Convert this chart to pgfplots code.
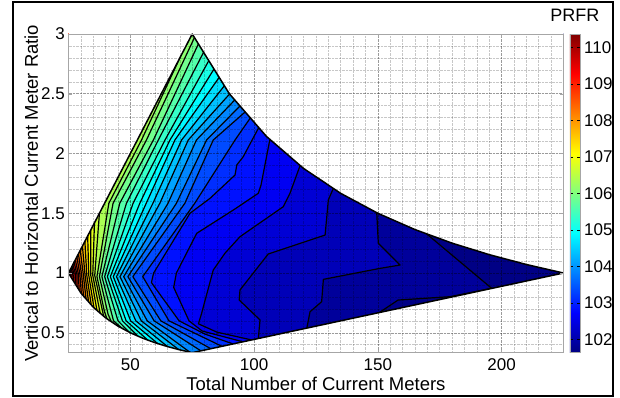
\documentclass[border=0pt]{standalone}
\usepackage{pgfplots}
\pgfplotsset{compat=1.18}
\usepackage{fontspec}
\setmainfont{Liberation Sans}
\definecolor{cb}{rgb}{0,0,0.523}
\definecolor{c0}{rgb}{0,0,0.608}
\definecolor{c1}{rgb}{0,0,0.722}
\definecolor{c2}{rgb}{0,0,0.837}
\definecolor{c3}{rgb}{0,0,0.952}
\definecolor{c4}{rgb}{0,0.066,1}
\definecolor{c5}{rgb}{0,0.181,1}
\definecolor{c6}{rgb}{0,0.296,1}
\definecolor{c7}{rgb}{0,0.411,1}
\definecolor{c8}{rgb}{0,0.525,1}
\definecolor{c9}{rgb}{0,0.640,1}
\definecolor{c10}{rgb}{0,0.755,1}
\definecolor{c11}{rgb}{0,0.869,1}
\definecolor{c12}{rgb}{0,0.984,1}
\definecolor{c13}{rgb}{0.099,1,0.901}
\definecolor{c14}{rgb}{0.213,1,0.787}
\definecolor{c15}{rgb}{0.328,1,0.672}
\definecolor{c16}{rgb}{0.443,1,0.557}
\definecolor{c17}{rgb}{0.557,1,0.443}
\definecolor{c18}{rgb}{0.672,1,0.328}
\definecolor{c19}{rgb}{0.787,1,0.213}
\definecolor{c20}{rgb}{0.901,1,0.099}
\definecolor{c21}{rgb}{1,0.984,0}
\definecolor{c22}{rgb}{1,0.869,0}
\definecolor{c23}{rgb}{1,0.755,0}
\definecolor{c24}{rgb}{1,0.640,0}
\definecolor{c25}{rgb}{1,0.525,0}
\definecolor{c26}{rgb}{1,0.411,0}
\definecolor{c27}{rgb}{1,0.296,0}
\definecolor{c28}{rgb}{1,0.181,0}
\definecolor{c29}{rgb}{1,0.066,0}
\definecolor{c30}{rgb}{0.952,0,0}
\definecolor{c31}{rgb}{0.837,0,0}
\definecolor{c32}{rgb}{0.722,0,0}
\definecolor{c33}{rgb}{0.608,0,0}
\definecolor{c34}{rgb}{0.527,0,0}
% contour lines (levels 101.75 + 0.25k); first and last points lie just outside the domain
\newcommand\defline[2]{\expandafter\def\csname ln#1\endcsname{#2}}
\defline{0}{(158.6,1.52) (171.1,1.304) (196.0,0.872) (179.2,0.802) (158.2,0.774) (151.0,0.675) (147.0,0.58)}
\defline{1}{(148.8,1.75) (149.55,1.51) (150.2,1.249) (159.0,1.067) (150.9,1.039) (128.0,0.947) (127.3,0.76) (122.6,0.676) (121.3,0.537) (120.5,0.45)}
\defline{2}{(133,1.85) (132.0,1.708) (130.0,1.611) (128.7,1.318) (105.7,1.159) (94.3,0.858) (94.0,0.774) (102.4,0.607) (101.7,0.452) (101.4,0.38)}
\defline{3}{(119.5,2.05) (118.6,1.9) (114.5,1.667) (111.8,1.555) (94.3,1.304) (88.2,1.165) (83.5,1.025) (79.5,0.718) (78.8,0.663) (77.5,0.575) (85,0.505) (99.0,0.44) (99.2,0.37)}
\defline{4}{(107.3,2.3) (106.4,2.12) (102.8,1.736) (101.7,1.667) (91.6,1.527) (76.8,1.332) (68.6,1.0) (67.5,0.88) (73.7,0.6) (79,0.515) (95.5,0.4244) (95.8,0.35)}
\defline{5}{(102.7,2.33) (101.7,2.21) (95.6,1.973) (93.0,1.904) (92.3,1.82) (82.2,1.625) (74.1,1.50) (59.4,1.0) (58.5,0.92) (69.7,0.6) (80,0.49) (91.5,0.4067) (91.8,0.33)}
\defline{6}{(99.5,2.42) (98.5,2.298) (92.3,2.113) (76.0,1.583) (55.0,0.97) (65.6,0.6) (87.0,0.3867) (87.3,0.31)}
\defline{7}{(97.4,2.47) (96.4,2.348) (83.5,2.113) (72.0,1.583) (51.0,0.97) (62.3,0.6) (82.5,0.3667) (82.8,0.29)}
\defline{8}{(95.3,2.52) (94.3,2.398) (80.8,2.113) (68.6,1.583) (49.0,0.97) (59.6,0.6) (78.5,0.3489) (78.8,0.27)}
\defline{9}{(93.2,2.57) (92.2,2.448) (76.7,2.113) (65.2,1.583) (47.3,0.97) (56.8,0.6) (74.0,0.338) (74.6,0.26)}
\defline{10}{(91.1,2.62) (90.1,2.498) (73.4,2.113) (61.9,1.583) (45.8,0.97) (54.4,0.6) (69.5,0.36) (70.1,0.27)}
\defline{11}{(89.0,2.69) (88.0,2.567) (70.7,2.113) (59.1,1.583) (44.4,0.97) (52.2,0.6) (65.0,0.3846) (65.6,0.29)}
\defline{12}{(86.9,2.76) (85.9,2.637) (68.0,2.113) (56.4,1.583) (43.1,0.97) (50.1,0.6) (61.0,0.4103) (61.6,0.31)}
\defline{13}{(84.8,2.83) (83.8,2.707) (66.0,2.113) (53.8,1.583) (41.9,0.97) (48.3,0.6) (57.0,0.4394) (57.6,0.34)}
\defline{14}{(82.7,2.9) (81.7,2.777) (64.0,2.113) (51.1,1.583) (40.7,0.97) (46.8,0.6) (53.0,0.4727) (53.6,0.37)}
\defline{15}{(80.6,2.97) (79.6,2.847) (61.3,2.113) (48.4,1.583) (39.6,0.97) (45.0,0.6) (49.5,0.5056) (50.1,0.41)}
\defline{16}{(78.5,3.04) (77.5,2.917) (59.3,2.113) (45.7,1.583) (38.5,0.97) (43.2,0.6) (46.5,0.54) (47.1,0.44)}
\defline{17}{(76.9,3.09) (75.9,2.97) (56.5,2.113) (43.0,1.583) (37.5,0.97) (41.0,0.655) (42.3,0.593) (42.9,0.49)}
\defline{18}{(68.5,2.9) (70,2.8) (54.5,2.113) (41.3,1.583) (36.5,0.97) (39.5,0.68) (40.5,0.618) (41.1,0.52)}
\defline{19}{(36,1.6) (37.5,1.5) (35.6,0.98) (39.2,0.6393) (39.8,0.54)}
\defline{20}{(34,1.52) (35.5,1.42) (34.8,0.98) (37.8,0.6643) (38.4,0.56)}
\defline{21}{(32.5,1.46) (34.0,1.36) (34.0,0.98) (36.5,0.6875) (37.1,0.59)}
\defline{22}{(31.25,1.41) (32.75,1.31) (33.2,0.98) (35.3,0.7089) (35.9,0.61)}
\defline{23}{(30.125,1.365) (31.625,1.265) (32.4,0.98) (34.2,0.7333) (34.8,0.63)}
\defline{24}{(29.125,1.325) (30.625,1.225) (31.7,0.98) (33.1,0.7595) (33.7,0.66)}
\defline{25}{(28.25,1.29) (29.75,1.19) (31.0,0.985) (32.1,0.7833) (32.7,0.68)}
\defline{26}{(27.5,1.26) (29.0,1.16) (30.3,0.985) (31.1,0.8071) (31.7,0.71)}
\defline{27}{(26.875,1.235) (28.375,1.135) (29.6,0.99) (30.2,0.8286) (30.8,0.73)}
\defline{28}{(26.25,1.21) (27.75,1.11) (29.0,0.99) (29.3,0.8567) (29.9,0.76)}
\defline{29}{(25.75,1.19) (27.25,1.09) (28.4,0.99) (28.5,0.8833) (29.1,0.78)}
\defline{30}{(25.25,1.17) (26.75,1.07) (27.8,0.995) (27.7,0.91) (28.3,0.81)}
\defline{31}{(24.875,1.155) (26.375,1.055) (27.2,0.995) (27.0,0.9333) (27.6,0.83)}
\defline{32}{(24.5,1.14) (26.0,1.04) (26.6,1.0) (26.3,0.9567) (26.9,0.86)}
\defline{33}{(24.175,1.127) (25.675,1.027) (26.1,1.0) (25.8,0.9733) (26.4,0.87)}
\defline{34}{(23.825,1.113) (25.325,1.013) (25.6,1.0) (25.3,0.99) (25.9,0.89)}
% band: region on the high (left) side of line #1, closed around the left
\newcommand\band[3]{\edef\tmp{\noexpand\addplot[fill=c#1, draw=none] coordinates {(#2,3.6) \csname ln#1\endcsname\space(#3,0.1) (0,0.1) (0,3.6)};}\tmp}
\newcommand\cntline[1]{\edef\tmp{\noexpand\addplot[black, line width=1.2pt, line join=round] coordinates {\csname ln#1\endcsname};}\tmp}
\begin{document}
\fontsize{18}{21}\selectfont
\begin{tikzpicture}
\useasboundingbox (0,0) rectangle (620pt,398pt);
\draw[line width=2pt] (12.7pt,2pt) rectangle (613pt,396pt);
\begin{axis}[
  at={(68.5pt,45.3pt)}, anchor=south west,
  scale only axis, width=494.9pt, height=318.7pt,
  xmin=25, xmax=225, ymin=0.333333, ymax=3,
  axis on top,
  xtick={50,100,150,200},
  ytick={0.5,1,1.5,2,2.5,3},
  minor xtick={25,30,...,225},
  minor ytick={0.4,0.5,...,2.95},
  grid=both,
  major grid style={black, opacity=0.22, densely dotted, line width=0.5pt},
  minor grid style={black, opacity=0.22, densely dotted, line width=0.5pt},
  axis line style={gray!70, line width=0.6pt},
  tick style={gray!70},
  major tick length=3pt, minor tick length=0pt,
  tick align=inside,
  ticklabel style={font=\fontsize{17}{20}\selectfont},
  yticklabel style={xshift=2.5pt},
  /pgf/number format/assume math mode=true,
  xlabel={Total Number of Current Meters},
  ylabel={Vertical to Horizontal Current Meter Ratio},
  label style={font=\fontsize{18.5}{21}\selectfont},
  xlabel style={yshift=6pt},
  ylabel shift=-9pt,
  colormap/jet,
  point meta min=101.64, point meta max=110.36,
  colorbar,
  colorbar style={
    at={(parent axis.north east)}, anchor=north west, xshift=-2pt,
    width=10pt,
    ytick={102,103,...,110},
    yticklabel style={font=\fontsize{17}{20}\selectfont, xshift=-2pt},
    /pgf/number format/assume math mode=true,
    axis line style={gray!70},
    major tick length=3pt,
    tick style={black},
    title={PRFR},
    title style={font=\fontsize{18}{21}\selectfont, yshift=0pt},
  },
  no markers,
]
% lowest band everywhere
\addplot[fill=cb, draw=none] coordinates {(0,0.1) (250,0.1) (250,3.6) (0,3.6)};
\band{0}{158.6}{147}
\band{1}{148.8}{120.5}
\band{2}{133}{101.4}
\band{3}{119.5}{99.2}
\band{4}{107.3}{95.8}
\band{5}{102.7}{91.8}
\band{6}{99.5}{87.3}
\band{7}{97.4}{82.8}
\band{8}{95.3}{78.8}
\band{9}{93.2}{74.6}
\band{10}{91.1}{70.1}
\band{11}{89.0}{65.6}
\band{12}{86.9}{61.6}
\band{13}{84.8}{57.6}
\band{14}{82.7}{53.6}
\band{15}{80.6}{50.1}
\band{16}{78.5}{47.1}
\band{17}{76.9}{42.9}
\band{18}{68.5}{41.1}
\band{19}{36}{39.8}
\band{20}{34}{38.4}
\band{21}{32.5}{37.1}
\band{22}{31.25}{35.9}
\band{23}{30.125}{34.8}
\band{24}{29.125}{33.7}
\band{25}{28.25}{32.7}
\band{26}{27.5}{31.7}
\band{27}{26.875}{30.8}
\band{28}{26.25}{29.9}
\band{29}{25.75}{29.1}
\band{30}{25.25}{28.3}
\band{31}{24.875}{27.6}
\band{32}{24.5}{26.9}
\band{33}{24.175}{26.4}
\band{34}{23.825}{25.9}
\cntline{0}\cntline{1}\cntline{2}\cntline{3}\cntline{4}\cntline{5}\cntline{6}\cntline{7}\cntline{8}\cntline{9}
\cntline{10}\cntline{11}\cntline{12}\cntline{13}\cntline{14}\cntline{15}\cntline{16}\cntline{17}\cntline{18}\cntline{19}
\cntline{20}\cntline{21}\cntline{22}\cntline{23}\cntline{24}\cntline{25}\cntline{26}\cntline{27}\cntline{28}\cntline{29}
\cntline{30}\cntline{31}\cntline{32}\cntline{33}\cntline{34}
% white outside the sampled domain
\addplot[fill=white, draw=none] coordinates {(0,1) (25,1) (75,3) (75,3.6) (0,3.6)};
\addplot[fill=white, draw=none] coordinates {(75,3) (90,2.5) (105,2.142857) (120,1.875) (135,1.666667) (150,1.5) (165,1.363636) (180,1.25) (195,1.153846) (210,1.071429) (225,1) (250,1) (250,3.6) (75,3.6)};
\addplot[fill=white, draw=none] coordinates {(0,1) (25,1) (30,0.833333) (35,0.714286) (40,0.625) (45,0.555556) (50,0.5) (55,0.454545) (60,0.416667) (65,0.384615) (70,0.357143) (75,0.333333) (225,1) (250,1) (250,0.1) (0,0.1)};
% domain outline
\addplot[black, line width=1.5pt, line join=round, line cap=round] coordinates {(25,1) (75,3) (90,2.5) (105,2.142857) (120,1.875) (135,1.666667) (150,1.5) (165,1.363636) (180,1.25) (195,1.153846) (210,1.071429) (225,1) (75,0.333333) (70,0.357143) (65,0.384615) (60,0.416667) (55,0.454545) (50,0.5) (45,0.555556) (40,0.625) (35,0.714286) (30,0.833333) (25,1)};
\end{axis}
\end{tikzpicture}
\end{document}
